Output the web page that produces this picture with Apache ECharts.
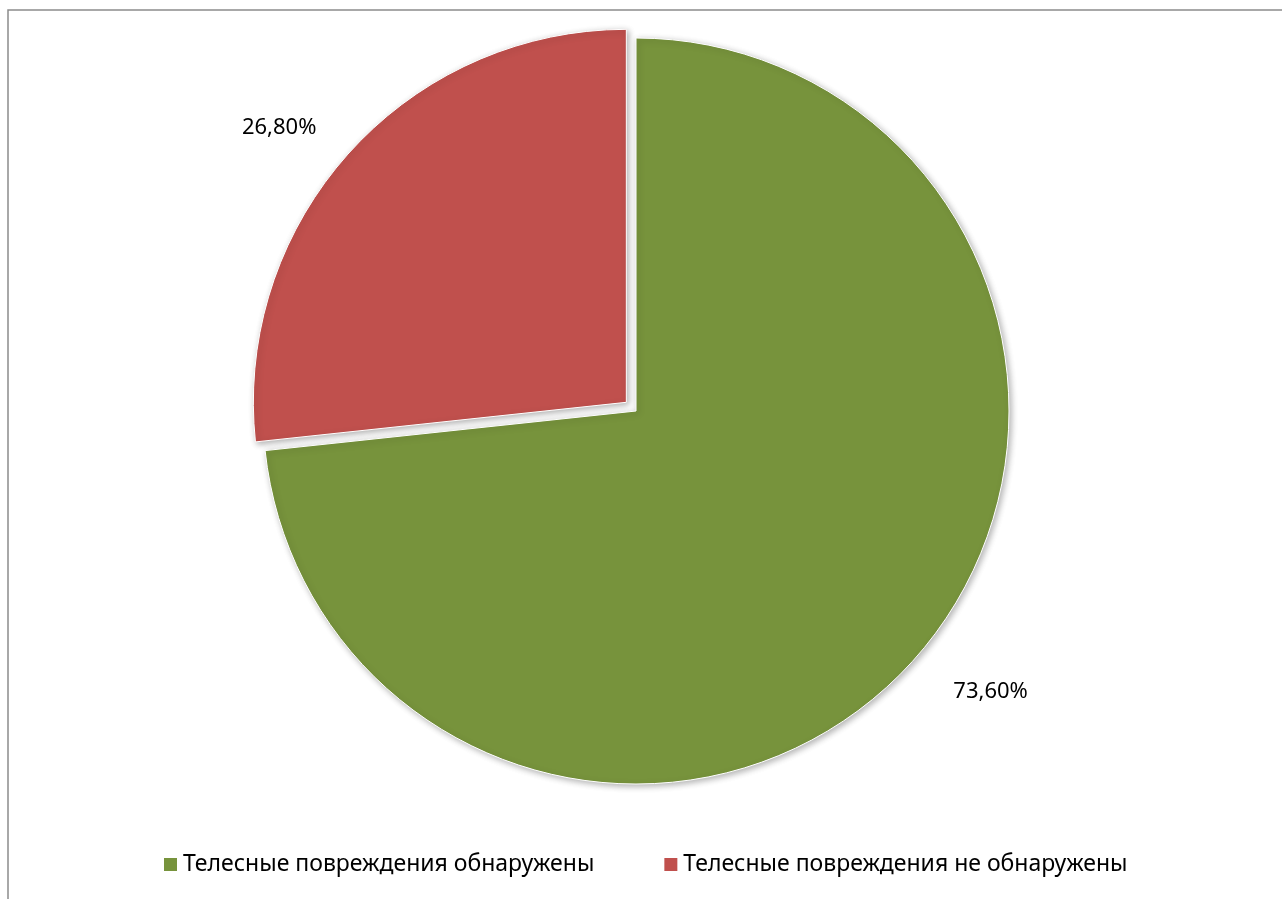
<!DOCTYPE html>
<html>
<head>
<meta charset="utf-8">
<script src="https://cdn.jsdelivr.net/npm/echarts@6/dist/echarts.min.js"></script>
<style>
  html, body { margin: 0; padding: 0; background: #fff; }
  #myPieChart { width: 1282px; height: 899px; }
</style>
</head>
<body>
<div id="myPieChart"></div>
<script>
// data
const categories = ["Телесные повреждения обнаружены", "Телесные повреждения не обнаружены"];
const percentValues = [73.6, 26.8];
const sliceColors = ["#77933C", "#C0504D"];

const pieChart = echarts.init(document.getElementById("myPieChart"));

const option = {
  backgroundColor: "#fff",
  color: sliceColors,
  textStyle: {
    fontFamily: "Noto Sans",
  },
  graphic: [
    {
      // thin frame around the plot area
      type: "rect",
      shape: { x: 8, y: 10, width: 1300, height: 920 },
      style: { fill: "none", stroke: "#8c8c8c", lineWidth: 1.5 },
      silent: true,
    },
  ],
  legend: {
    left: 157,
    top: 848,
    icon: "rect",
    itemWidth: 15,
    itemHeight: 15,
    itemGap: 68,
    selectedMode: false,
    textStyle: {
      fontSize: 23,
      color: "#000",
    },
  },
  series: [
    {
      type: "pie",
      center: [636, 411],
      radius: 373,
      startAngle: 90,
      clockwise: true,
      avoidLabelOverlap: false,
      selectedMode: "single",
      selectedOffset: 13,
      animation: false,
      itemStyle: {
        borderColor: "#fff",
        borderWidth: 1,
        shadowBlur: 6,
        shadowColor: "rgba(0,0,0,0.3)",
        shadowOffsetX: 2,
        shadowOffsetY: 2,
      },
      label: {
        show: true,
        position: "outside",
        fontSize: 22,
        color: "#000",
        formatter: (p) => p.value.toFixed(2).replace(".", ",") + "%",
      },
      labelLine: {
        show: false,
        length: 47,
        length2: 0,
      },
      emphasis: { disabled: true },
      data: categories.map((name, i) => ({
        name,
        value: percentValues[i],
        selected: i === 1,
        labelLine: { show: false, length: i === 1 ? 37 : 47, length2: 0 },
      })),
    },
  ],
};
option && pieChart.setOption(option);
</script>
</body>
</html>
